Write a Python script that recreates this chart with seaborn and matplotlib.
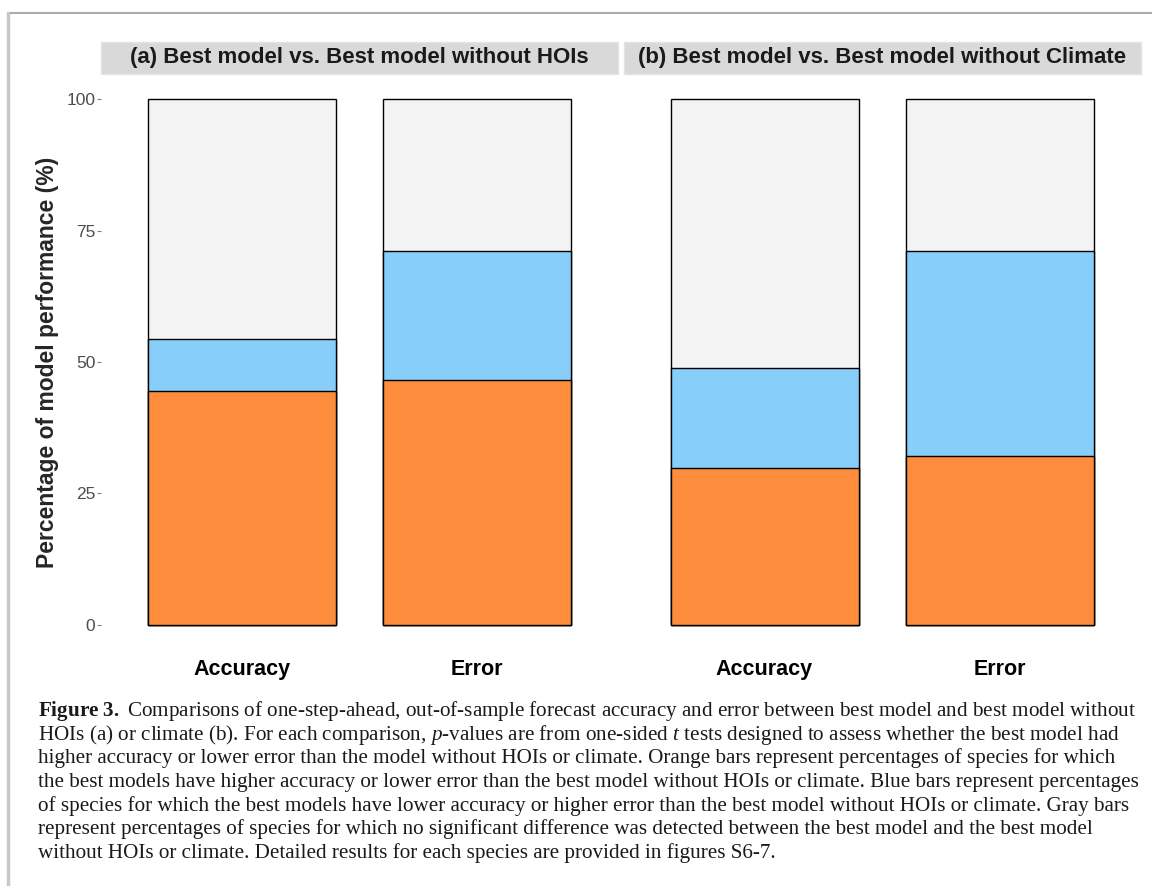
import pandas as pd
import matplotlib.pyplot as plt
import seaborn as sns
from matplotlib.lines import Line2D
from matplotlib.patches import Rectangle

# Values (percent of species)
panels = ['(a) Best model vs. Best model without HOIs',
          '(b) Best model vs. Best model without Climate']
metrics = ['Accuracy', 'Error']
orange_pct = [44.4, 46.5, 29.8, 32.1]   # best model better
blue_pct = [10.0, 24.6, 19.0, 39.0]     # best model worse
gray_pct = [45.6, 28.9, 51.2, 28.9]     # no significant difference

caption_lines = [
    r"$\mathbf{Figure\ 3.}$ Comparisons of one-step-ahead, out-of-sample forecast accuracy and error between best model and best model without",
    r"HOIs (a) or climate (b). For each comparison, $p$-values are from one-sided $t$ tests designed to assess whether the best model had",
    "higher accuracy or lower error than the model without HOIs or climate. Orange bars represent percentages of species for which",
    "the best models have higher accuracy or lower error than the best model without HOIs or climate. Blue bars represent percentages",
    "of species for which the best models have lower accuracy or higher error than the best model without HOIs or climate. Gray bars",
    "represent percentages of species for which no significant difference was detected between the best model and the best model",
    "without HOIs or climate. Detailed results for each species are provided in figures S6-7.",
]

data = pd.DataFrame({
    'panel': [panels[0]] * 2 + [panels[1]] * 2,
    'metric': metrics * 2,
    'orange': orange_pct,
    'blue': blue_pct,
    'gray': gray_pct,
})
data['blue_top'] = data['orange'] + data['blue']
data['gray_top'] = data['blue_top'] + data['gray']

sns.set_theme(style="white")
plt.rcParams['font.family'] = ['Liberation Sans', 'DejaVu Sans']
plt.rcParams['mathtext.fontset'] = 'custom'
plt.rcParams['mathtext.rm'] = 'Liberation Serif'
plt.rcParams['mathtext.it'] = 'Liberation Serif:italic'
plt.rcParams['mathtext.bf'] = 'Liberation Serif:bold'

fig = plt.figure(figsize=(11.52, 8.86), dpi=100)
W, H = 1152, 886

def fx(px):
    return px / W

def fy(py):
    return 1 - py / H

panel_left = [101, 623.5]
panel_w = 517
top_px, bot_px = 73, 651

for i, name in enumerate(panels):
    ax = fig.add_axes([fx(panel_left[i]), fy(bot_px), panel_w / W, (bot_px - top_px) / H])
    sub = data[data['panel'] == name]
    # stacked bars: draw cumulative totals, largest first
    for col, color in [('gray_top', '#F3F3F3'), ('blue_top', '#87CEFA'), ('orange', '#FD8D3C')]:
        sns.barplot(data=sub, x='metric', y=col, color=color, width=0.8,
                    edgecolor='black', linewidth=1.0, saturation=1, ax=ax)
    ax.set_xlim(-0.6, 1.6)
    ax.set_ylim(-5, 105)
    for s in ax.spines.values():
        s.set_visible(False)
    ax.set_xlabel('')
    ax.set_ylabel('')
    ax.tick_params(axis='x', length=3, width=0.8, color='#7F7F7F', pad=3,
                   labelsize=15.5, labelcolor='black')
    for lab in ax.get_xticklabels():
        lab.set_fontweight('bold')
    if i == 0:
        ax.set_yticks([0, 25, 50, 75, 100])
        ax.tick_params(axis='y', length=3, width=0.8, color='#7F7F7F', pad=1,
                       labelsize=12.5, labelcolor='#4D4D4D', left=True)
        ax.set_ylabel('Percentage of model performance (%)', fontsize=16.5,
                      fontweight='bold', labelpad=5)
    else:
        ax.set_yticks([])

    # facet strip
    fig.patches.append(Rectangle((fx(panel_left[i]), fy(74)), panel_w / W, 32 / H,
                                 transform=fig.transFigure, facecolor='#D9D9D9',
                                 edgecolor='#E4E4E4', linewidth=1))
    fig.text(fx(panel_left[i] + panel_w / 2), fy(58), name, ha='center', va='center',
             fontsize=16, fontweight='bold', color='#1A1A1A')

# page frame
fig.add_artist(Line2D([fx(8), 1], [fy(13), fy(13)], color='#ABABAB', linewidth=1.5))
fig.add_artist(Line2D([fx(8), fx(8)], [fy(13), 0], color='#C8C8C8', linewidth=2.5))

# caption
for k, line in enumerate(caption_lines):
    fig.text(fx(38), fy(711 + k * 23.7), line, ha='left', va='center',
             fontsize=15.2, family='Liberation Serif', color='#1A1A1A')

plt.savefig('out.png', dpi=100)
